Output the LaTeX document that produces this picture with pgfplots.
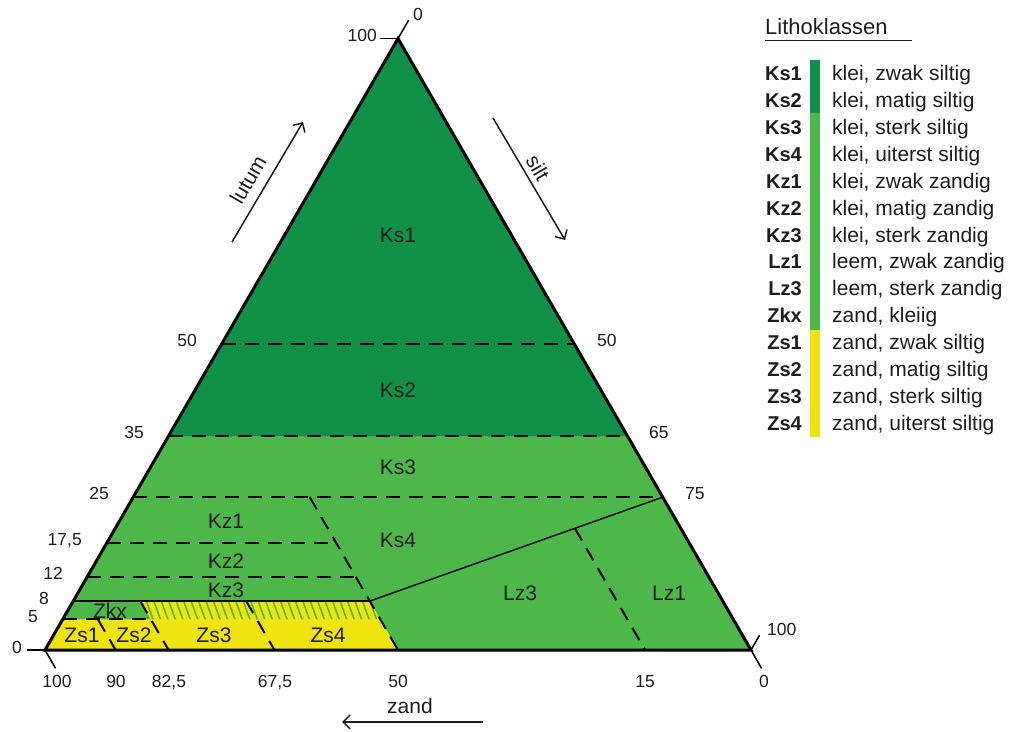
\documentclass[border=0pt]{standalone}
\usepackage{fontspec}
\setmainfont{Liberation Sans}
\usepackage{pgfplots}
\pgfplotsset{compat=1.18}
\usetikzlibrary{patterns.meta, arrows.meta}

\definecolor{donker}{RGB}{17,145,72}
\definecolor{licht}{RGB}{78,183,74}
\definecolor{geel}{RGB}{240,228,16}
\definecolor{tekst}{RGB}{30,28,29}

% ternary (lutum L, zand Z) -> cartesian, base of the triangle = 100 units
\pgfplotsset{
  table/tern/.style={
    x expr={100-\thisrow{Z}-0.5*\thisrow{L}},
    y expr={0.8660254*\thisrow{L}},
    row sep=\\},
  grens/.style={black, line width=1.4pt},
  stip/.style={black, line width=2pt, dash pattern=on 14pt off 9pt},
  tick/.style={black, line width=1.5pt},
}

\newcommand{\fr}{\fontsize{21}{25}\selectfont}
\newcommand{\ft}{\fontsize{17.5}{21}\selectfont}
\newcommand{\fl}{\fontsize{20}{24}\selectfont\bfseries}
\newcommand{\fd}{\fontsize{21}{25}\selectfont}
\newcommand{\fh}{\fontsize{22}{26}\selectfont}

\begin{document}
\begin{tikzpicture}
\useasboundingbox (0,0) rectangle (1014pt,731pt);
\begin{axis}[at={(0,0)}, anchor=south west,
  x=7.06pt, y=7.06pt,
  xmin=-6.3739, xmax=137.252, ymin=-11.473, ymax=92.068,
  hide axis, clip=false]

% class areas
\addplot [fill=licht, draw=none] table[tern] {L Z\\ 0 0\\ 100 0\\ 0 100\\};
\addplot [fill=donker, draw=none] table[tern] {L Z\\ 35 0\\ 100 0\\ 35 65\\};
\addplot [fill=geel, draw=none] table[tern] {L Z\\ 0 50\\ 0 100\\ 5 95\\ 5 82.5\\ 8 82.5\\ 8 50\\};
\addplot [draw=none, pattern={Lines[angle=-70, distance=7pt, line width=1.6pt]}, pattern color=licht]
  table[tern] {L Z\\ 5 50\\ 5 82.5\\ 8 82.5\\ 8 50\\};

% dashed class boundaries: constant lutum
\addplot [stip] table[tern] {L Z\\ 50 50\\ 50 0\\};
\addplot [stip] table[tern] {L Z\\ 35 65\\ 35 0\\};
\addplot [stip] table[tern] {L Z\\ 25 75\\ 25 0\\};
\addplot [stip] table[tern] {L Z\\ 17.5 82.5\\ 17.5 50\\};
\addplot [stip] table[tern] {L Z\\ 12 88\\ 12 50\\};
\addplot [stip] table[tern] {L Z\\ 5 95\\ 5 82.5\\};
% dashed class boundaries: constant zand
\addplot [stip] table[tern] {L Z\\ 25 50\\ 0 50\\};
\addplot [stip] table[tern] {L Z\\ 19.9 15\\ 0 15\\};
\addplot [stip] table[tern] {L Z\\ 5 90\\ 0 90\\};
\addplot [stip] table[tern] {L Z\\ 8 82.5\\ 0 82.5\\};
\addplot [stip] table[tern] {L Z\\ 8 67.5\\ 0 67.5\\};

% solid boundaries
\addplot [grens] table[tern] {L Z\\ 8 92\\ 8 50\\};
\addplot [grens] table[tern] {L Z\\ 8 50\\ 25 0\\};

% triangle
\addplot [black, line width=3pt, line join=miter] table[tern] {L Z\\ 0 0\\ 100 0\\ 0 100\\} -- cycle;

% corner ticks
\addplot [tick] table[tern] {L Z\\ 0 100\\ 0 102.5\\};
\addplot [tick] table[tern] {L Z\\ 0 100\\ -3 100\\};
\addplot [tick] table[tern] {L Z\\ 100 0\\ 100 2.5\\};
\addplot [tick] table[tern] {L Z\\ 100 0\\ 103 -3\\};
\addplot [tick] table[tern] {L Z\\ 0 0\\ -3 0\\};
\addplot [tick] table[tern] {L Z\\ 0 0\\ 2.4 -2.4\\};
\end{axis}

\begin{scope}[x=1pt, y=-1pt, shift={(0pt,731pt)}, every node/.style={inner sep=0pt, text=tekst}]
% class names
\foreach \n/\px/\py in {Ks1/398/242.5, Ks2/398/397.5, Ks3/398/474.5, Ks4/398/547.5,
    Kz1/226/528.5, Kz2/226/568.5, Kz3/226/597.5, Zkx/110/618.5,
    Zs1/82/642.5, Zs2/134/642.5, Zs3/214/642.5, Zs4/328/642.5,
    Lz3/520/600.5, Lz1/669/600.5}
  \node[anchor=base, font=\fr] at (\px,\py) {\n};

% lutum values
\foreach \t/\px/\py in {100/377/42, 50/197/347, 35/144/439, 25/109/500,
    {17,5}/82/546, 12/63/580, 8/49/604, 5/38/622, 0/22/653}
  \node[anchor=base east, font=\ft] at (\px,\py) {\t};
% silt values
\foreach \t/\px/\py in {50/597/347, 65/649/439, 75/685/500, 100/767/635}
  \node[anchor=base west, font=\ft] at (\px,\py) {\t};
\node[anchor=base, font=\ft] at (418,21) {0};
% zand values
\foreach \t/\px in {100/57, 90/116, {82,5}/169, {67,5}/275, 50/398, 15/645, 0/764}
  \node[anchor=base, font=\ft] at (\px,687) {\t};

% component arrows
\draw[line width=1.5pt, tekst, -{Straight Barb[length=7pt, width=14pt]}] (232,242) -- (303,122);
\draw[line width=1.5pt, tekst, -{Straight Barb[length=7pt, width=14pt]}] (493,118) -- (565,240);
\draw[line width=1.5pt, tekst, -{Straight Barb[length=7pt, width=14pt]}] (483,722) -- (342,722);
\node[rotate=60, font=\fr] at (248,180) {lutum};
\node[rotate=-60, font=\fr] at (538,168) {silt};
\node[anchor=base, font=\fr] at (410,713) {zand};

% legend
\node[anchor=base west, font=\fh] at (765,35) {Lithoklassen};
\draw[line width=0.9pt, tekst] (765,40) -- (912,40);
\fill[donker] (810,60) rectangle (820,113);
\fill[licht] (810,113) rectangle (820,330);
\fill[geel] (810,330) rectangle (820,437);
\foreach \c/\d [count=\i from 0] in {Ks1/{klei, zwak siltig}, Ks2/{klei, matig siltig},
    Ks3/{klei, sterk siltig}, Ks4/{klei, uiterst siltig}, Kz1/{klei, zwak zandig},
    Kz2/{klei, matig zandig}, Kz3/{klei, sterk zandig}, Lz1/{leem, zwak zandig},
    Lz3/{leem, sterk zandig}, Zkx/{zand, kleiig}, Zs1/{zand, zwak siltig},
    Zs2/{zand, matig siltig}, Zs3/{zand, sterk siltig}, Zs4/{zand, uiterst siltig}}
{
  \pgfmathsetmacro\yb{81+26.85*\i}
  \node[anchor=base east, font=\fl] at (802,\yb) {\c};
  \node[anchor=base west, font=\fd] at (832,\yb) {\d};
}
\end{scope}
\end{tikzpicture}
\end{document}
